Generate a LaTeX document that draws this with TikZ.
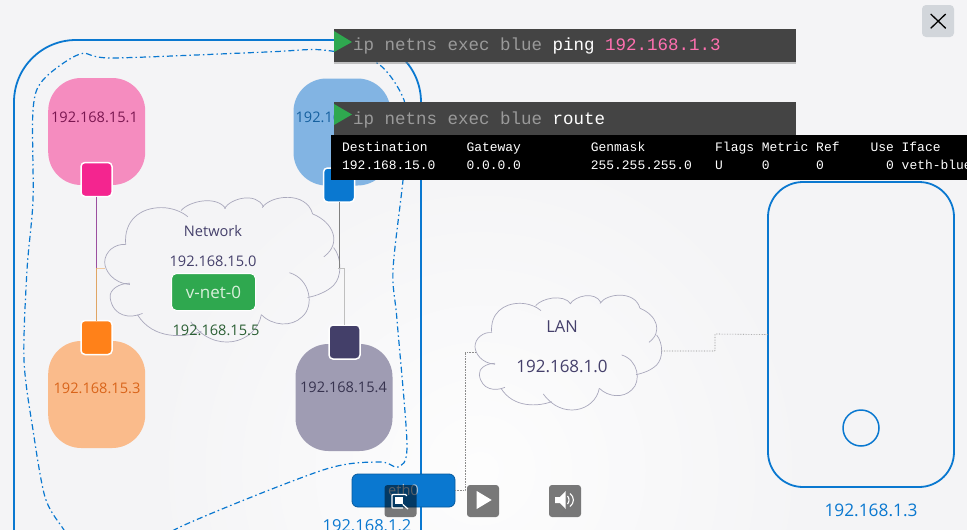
\documentclass[tikz,border=0pt]{standalone}
\usepackage{fontspec}
\setmainfont{Open Sans}
\setmonofont{Liberation Mono}
\usetikzlibrary{shadows}

\definecolor{netblue}{HTML}{0A78D0}
\definecolor{netink}{HTML}{45406B}
\definecolor{cloudline}{HTML}{A9A8BC}
\definecolor{termgray}{HTML}{444444}
\definecolor{termtext}{HTML}{9A9A9A}
\definecolor{termpink}{HTML}{FF70B0}
\definecolor{termgreen}{HTML}{2FA84F}
\definecolor{podpink}{HTML}{F58CBF}
\definecolor{podblue}{HTML}{82B4E3}
\definecolor{podorange}{HTML}{FABB8B}
\definecolor{podpurple}{HTML}{9F9CB3}
\definecolor{portpink}{HTML}{F4258F}
\definecolor{portorange}{HTML}{FF8119}
\definecolor{portpurple}{HTML}{433F69}
\definecolor{inkpink}{HTML}{7A1650}
\definecolor{inkblue}{HTML}{15609F}
\definecolor{inkorange}{HTML}{D9641A}
\definecolor{inkpurple}{HTML}{37334F}
\definecolor{inkgreen}{HTML}{2B5F34}
\definecolor{vnettext}{HTML}{D9F0DC}
\definecolor{ethline}{HTML}{075A9E}
\definecolor{ethtext}{HTML}{B8C8D8}
\definecolor{wirepurple}{HTML}{9B4F9F}
\definecolor{wireorange}{HTML}{E0A564}
\definecolor{wirepale}{HTML}{F0C8A0}
\definecolor{closegray}{HTML}{D2D6DB}
\definecolor{pagegray}{HTML}{F4F4F6}
\definecolor{pagelight}{HTML}{FDFDFD}

\tikzset{
  podbox/.style={rounded corners=33pt,minimum width=97pt,minimum height=107pt,inner sep=0pt,outer sep=0pt},
  portbox/.style={draw=white,line width=1.5pt,rounded corners=4pt,minimum width=31pt,minimum height=34pt,inner sep=0pt,outer sep=0pt},
  iplabel/.style={font=\fontsize{14.6}{17}\selectfont},
  termbox/.style={fill=termgray,minimum width=462pt,inner sep=0pt,outer sep=0pt,anchor=north west,
    drop shadow={opacity=0.45,shadow xshift=0pt,shadow yshift=-1.5pt}},
  termline/.style={font=\ttfamily\fontsize{17.5}{20}\selectfont,text=termtext,anchor=west,inner sep=0pt},
  tabline/.style={font=\ttfamily\fontsize{12.95}{15}\selectfont,text=white,anchor=west,inner sep=0pt},
  cloudstroke/.style={draw=cloudline,line width=0.7pt},
  dotwire/.style={draw=gray!90,line width=0.6pt,densely dotted},
  ctrlbtn/.style={fill=black,fill opacity=0.52,rounded corners=3pt,minimum size=32pt,inner sep=0pt,outer sep=0pt}
}

% one cloud, drawn lobe by lobe
\newcommand{\cloudlobes}{
  \draw[cloudstroke] (50,118) .. controls (45,60) and (85,30) .. (135,30) .. controls (160,30) and (185,40) .. (198,52);
  \draw[cloudstroke] (182,37) .. controls (200,15) and (265,0) .. (288,32);
  \draw[cloudstroke] (285,32) .. controls (300,8) and (360,-8) .. (378,28);
  \draw[cloudstroke] (375,30) .. controls (395,0) and (480,-10) .. (495,45);
  \draw[cloudstroke] (495,45) .. controls (545,65) and (565,115) .. (522,147);
  \draw[cloudstroke] (545,125) .. controls (565,150) and (565,195) .. (545,215) .. controls (530,230) and (505,240) .. (483,244);
  \draw[cloudstroke] (440,185) .. controls (490,200) and (500,265) .. (470,290) .. controls (445,315) and (400,312) .. (373,285);
  \draw[cloudstroke] (373,285) .. controls (360,355) and (260,380) .. (205,302);
  \draw[cloudstroke] (230,325) .. controls (190,340) and (115,345) .. (78,285);
  \draw[cloudstroke] (90,282) .. controls (60,295) and (20,290) .. (13,245) .. controls (10,225) and (35,210) .. (60,210);
  \draw[cloudstroke] (60,213) .. controls (20,210) and (0,180) .. (0,160) .. controls (0,135) and (25,115) .. (50,118);
}

\begin{document}
\begin{tikzpicture}[x=1pt,y=-1pt]

    \useasboundingbox (0,0) rectangle (967,530);
    \clip (0,0) rectangle (967,530);
    \fill[pagegray] (0,0) rectangle (967,530);
    \shade[inner color=pagelight,outer color=pagegray] (480,470) circle (330);

    % ============================================
    % HOST ONE - OUTLINE AND NAMESPACE BORDER
    % ============================================

    \draw[netblue,line width=1.8pt,rounded corners=62pt] (14,620) -- (14,40) -- (421,40) -- (421,620);
    \draw[netblue,line width=1.2pt,dash pattern=on 6pt off 3pt on 1.5pt off 3pt]
        plot[smooth cycle] coordinates {(80,54) (113,58) (267,52) (323,50) (377,63) (404,100) (405,140) (403,180)
        (393,270) (397,320) (407,445) (398,467) (380,462) (323,470) (180,527) (130,560) (85,555) (62,527)
        (45,497) (33,430) (24,360) (27,270) (33,200) (33,110) (43,80)};

    % ============================================
    % CLOUDS
    % ============================================

    \begin{scope}[shift={(104.7,195)},scale=0.42]
        \cloudlobes
    \end{scope}
    \begin{scope}[shift={(475,293.3)},scale=0.3333]
        \cloudlobes
    \end{scope}

    \coordinate (NetLeft) at (105,268);
    \coordinate (NetRight) at (338,268);
    \coordinate (LanLeft) at (475,352);
    \coordinate (LanRight) at (661,351);

    % ============================================
    % NAMESPACES
    % ============================================

    \node[podbox,fill=podpink] (PodPink) at (96.7,131.5) {};
    \node[podbox,fill=podblue] (PodBlue) at (342,132) {};
    \node[podbox,fill=podorange] (PodOrange) at (96.7,394.5) {};
    \node[podbox,fill=podpurple] (PodPurple) at (344,397.5) {};

    \node[iplabel,text=inkpink] (IpPink) at (94.5,117) {192.168.15.1};
    \node[iplabel,text=inkblue] (IpBlue) at (339,117) {192.168.15.2};
    \node[iplabel,text=inkorange] (IpOrange) at (97,388) {192.168.15.3};
    \node[iplabel,text=inkpurple] (IpPurple) at (343.5,387) {192.168.15.4};

    % Ports
    \node[portbox,fill=portpink] (PortPink) at (96.5,179.5) {};
    \node[portbox,fill=netblue] (PortBlue) at (339,185) {};
    \node[portbox,fill=portorange] (PortOrange) at (96.5,337.5) {};
    \node[portbox,fill=portpurple] (PortPurple) at (344.5,342) {};

    % Wires to the network
    \coordinate (BusLeft) at (96.5,268);
    \coordinate (BusRightA) at (339,268);
    \coordinate (BusRightB) at (344.5,268);
    \draw[line width=0.7pt,wirepurple] (PortPink) -- (BusLeft);
    \draw[line width=0.7pt,wireorange] (BusLeft) -- (PortOrange);
    \draw[line width=0.7pt,wirepale] (BusLeft) -- (NetLeft);
    \draw[line width=0.7pt,gray] (PortBlue) -- (BusRightA);
    \draw[line width=0.7pt,black!25] (NetRight) -- (BusRightB) -- (PortPurple);

    % ============================================
    % NETWORK TEXT AND SWITCH
    % ============================================

    \node[iplabel,text=netink] (NetName) at (213,231) {Network};
    \node[iplabel,text=netink] (NetAddr) at (213,261) {192.168.15.0};
    \node[draw=white,line width=1pt,fill=termgreen,rounded corners=5pt,minimum width=84pt,minimum height=37pt,
          inner sep=0pt,text=vnettext,font=\fontsize{17}{20}\selectfont] (VNet) at (213.5,292) {v-net-0};
    \node[iplabel,text=inkgreen] (VNetAddr) at (216,330) {192.168.15.5};

    \node[text=netink,font=\fontsize{16.5}{20}\selectfont] (LanName) at (562,327) {LAN};
    \node[text=netink,font=\fontsize{17}{20}\selectfont] (LanAddr) at (562,366) {192.168.1.0};

    % ============================================
    % ETH0 AND SECOND HOST
    % ============================================

    \node[draw=ethline,line width=0.8pt,fill=netblue,rounded corners=6pt,minimum width=103pt,minimum height=33pt,
          inner sep=0pt,outer sep=0pt,text=ethtext,font=\fontsize{14.6}{17}\selectfont] (EthZero) at (403.5,490.5) {eth0};
    \node[text=netblue,font=\fontsize{16.5}{20}\selectfont] (EthAddr) at (367,526) {192.168.1.2};

    \node[draw=netblue,line width=1.8pt,rounded corners=35pt,minimum width=186pt,minimum height=305pt,inner sep=0pt,outer sep=0pt] (HostTwo) at (861,334.5) {};
    \node[draw=netblue,line width=1.5pt,circle,minimum size=36pt,inner sep=0pt] (HostPort) at (861,428) {};
    \node[text=netblue,font=\fontsize{17.3}{20}\selectfont] (HostAddr) at (871,510) {192.168.1.3};

    \draw[dotwire] (EthZero.east) -- (465,490.5) -- (465,352) -- (LanLeft);
    \draw[dotwire] (LanRight) -- (715,351) -- (715,334) -- (HostTwo.west);

    % ============================================
    % TERMINALS
    % ============================================

    \node[termbox,minimum height=33pt] (TermPing) at (333.5,29) {};
    \node[termline] (CmdPing) at (353,46) {ip netns exec blue \textcolor{white}{ping} \textcolor{termpink}{192.168.1.3}};
    \fill[termgreen] (334,31) -- (352,42) -- (334,52) -- cycle;

    \node[termbox,minimum height=33pt] (TermRoute) at (333.5,102) {};
    \node[termline] (CmdRoute) at (353,120) {ip netns exec blue \textcolor{white}{route}};
    \fill[termgreen] (334,104) -- (352,114.5) -- (334,125) -- cycle;

    \fill[black] (331,134.5) rectangle (967,180);
    \node[tabline] (RowHead) at (342,148.5) {Destination~~~~~Gateway~~~~~~~~~Genmask~~~~~~~~~Flags~Metric~Ref~~~~Use~Iface};
    \node[tabline] (RowData) at (342,165) {192.168.15.0~~~~0.0.0.0~~~~~~~~~255.255.255.0~~~U~~~~~0~~~~~~0~~~~~~~~0~veth-blue};

    % ============================================
    % PLAYER BUTTONS
    % ============================================

    \node[ctrlbtn] (BtnZoom) at (400.5,501) {};
    \draw[white,line width=1.1pt,rounded corners=1pt] (406.5,496) -- (406.5,494.5) -- (392,494.5) -- (392,508) -- (403,508);
    \fill[white] (395,497.3) rectangle (402.5,504);
    \draw[white,line width=1.2pt] (402.7,504.3) -- (408,509);

    \node[ctrlbtn] (BtnPlay) at (483,501) {};
    \fill[white] (476.7,491) -- (491.7,500) -- (476.7,509) -- cycle;

    \node[ctrlbtn] (BtnSound) at (565,501) {};
    \fill[white] (555,497) -- (560,497) -- (565.7,491) -- (565.7,509) -- (560,503) -- (555,503) -- cycle;
    \draw[white,line width=1.1pt] (567.5,496) .. controls (569.5,498) and (569.5,502) .. (567.5,504);
    \draw[white,line width=1.1pt] (570,493.5) .. controls (574.5,497) and (574.5,503) .. (570,506.5);

    % Close button
    \node[fill=closegray,rounded corners=4pt,minimum size=32pt,inner sep=0pt] (BtnClose) at (938,21) {};
    \draw[black,line width=1.3pt] (930.7,14) -- (945.7,28.3);
    \draw[black,line width=1.3pt] (945.7,14) -- (930.7,28.3);

\end{tikzpicture}
\end{document}
